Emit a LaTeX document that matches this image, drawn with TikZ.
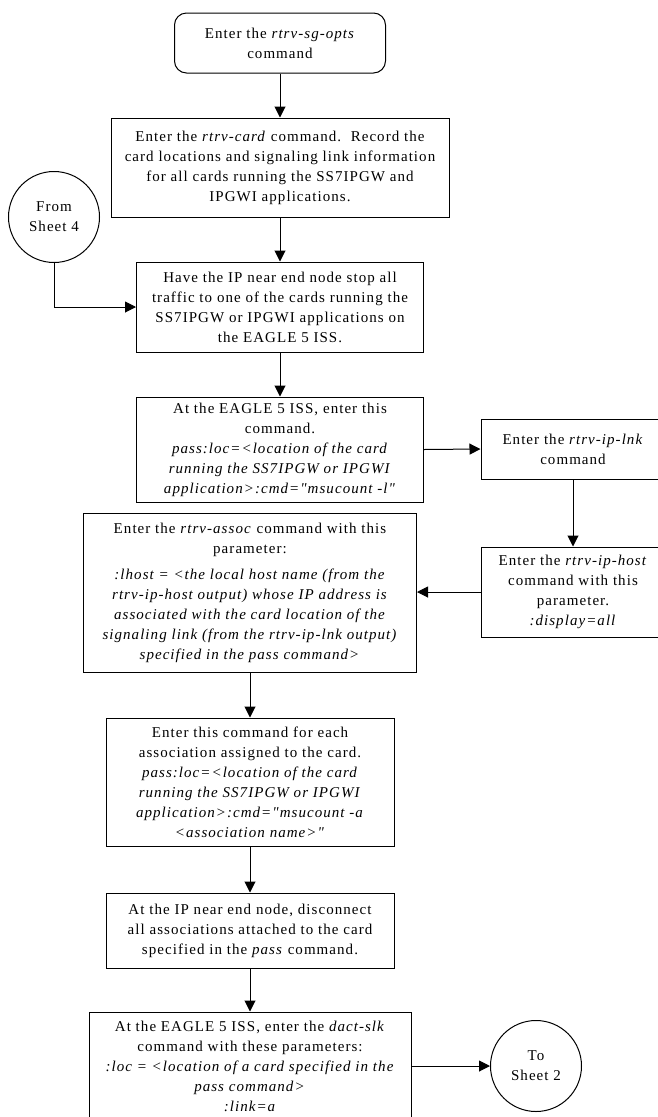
\documentclass[tikz,border=0pt]{standalone}
\usepackage{fontspec}
\setmainfont{Liberation Serif}[Ligatures=TeXOff, LetterSpace=7]
\usetikzlibrary{arrows.meta}
\begin{document}
\begin{tikzpicture}[x=1pt,y=-1pt,
  every node/.style={font=\fontsize{15}{20}\selectfont, align=center, inner sep=0pt},
  procbox/.style={draw, line width=1pt, rectangle},
  startbox/.style={draw, line width=1pt, rectangle, rounded corners=12pt},
  connector/.style={draw, line width=1pt, circle},
  flow/.style={line width=1pt, -{Triangle[length=11pt,width=11pt]}}
]
\useasboundingbox (0,0) rectangle (658,1117);
\fill[white] (0,0) rectangle (658,1117);

\node[startbox, minimum width=211pt, minimum height=60pt] (start) at (280,43)
  {Enter the \textit{rtrv-sg-opts}\\command};
\node[procbox, minimum width=338pt, minimum height=99pt] (card) at (280,167.5)
  {Enter the \textit{rtrv-card} command.\ \ Record the\\card locations and signaling link information\\for all cards running the SS7IPGW and\\IPGWI applications.};
\node[connector, minimum size=91pt] (from) at (54,217) {From\\Sheet 4};
\node[procbox, minimum width=287pt, minimum height=90pt] (stop) at (280,307)
  {Have the IP near end node stop all\\traffic to one of the cards running the\\SS7IPGW or IPGWI applications on\\the EAGLE 5 ISS.};
\node[procbox, minimum width=287pt, minimum height=105pt] (pass1) at (280,449.5)
  {At the EAGLE 5 ISS, enter this\\command.\\\textit{pass:loc=<location of the card}\\\textit{running the SS7IPGW or IPGWI}\\\textit{application>:cmd="msucount -l"}};
\node[procbox, minimum width=184pt, minimum height=60pt] (iplnk) at (573,449)
  {Enter the \textit{rtrv-ip-lnk}\\command};
\node[procbox, minimum width=184pt, minimum height=90pt] (iphost) at (573,592)
  {Enter the \textit{rtrv-ip-host}\\command with this\\parameter.\\\textit{:display=all}};
\node[procbox, minimum width=333pt, minimum height=159pt] (assoc) at (250,592.5)
  {Enter the \textit{rtrv-assoc} command with this\\parameter:\\[6pt]\textit{:lhost = <the local host name (from the}\\\textit{rtrv-ip-host output) whose IP address is}\\\textit{associated with the card location of the}\\\textit{signaling link (from the rtrv-ip-lnk output)}\\\textit{specified in the pass command>}};
\node[procbox, minimum width=288pt, minimum height=128pt] (pass2) at (250,782)
  {Enter this command for each\\association assigned to the card.\\\textit{pass:loc=<location of the card}\\\textit{running the SS7IPGW or IPGWI}\\\textit{application>:cmd="msucount -a}\\\textit{<association name>"}};
\node[procbox, minimum width=288pt, minimum height=75pt] (disc) at (250,930.5)
  {At the IP near end node, disconnect\\all associations attached to the card\\specified in the \textit{pass} command.};
\node[procbox, minimum width=322pt, minimum height=108pt] (dact) at (250,1066)
  {At the EAGLE 5 ISS, enter the \textit{dact-slk}\\command with these parameters:\\\textit{:loc = <location of a card specified in the}\\\textit{pass command>}\\\textit{:link=a}};
\node[connector, minimum size=91pt] (to) at (536,1066) {To\\Sheet 2};

\draw[flow] (start) -- (card);
\draw[flow] (card) -- (stop);
\draw[flow] (from.south) |- (stop.west);
\draw[flow] (stop) -- (pass1);
\draw[flow] (pass1.east) -- (iplnk.west);
\draw[flow] (iplnk) -- (iphost);
\draw[flow] (iphost.west) -- (assoc.east |- iphost.west);
\draw[flow] (assoc) -- (pass2);
\draw[flow] (pass2) -- (disc);
\draw[flow] (disc) -- (dact);
\draw[flow] (dact.east) -- (to.west);
\end{tikzpicture}
\end{document}
